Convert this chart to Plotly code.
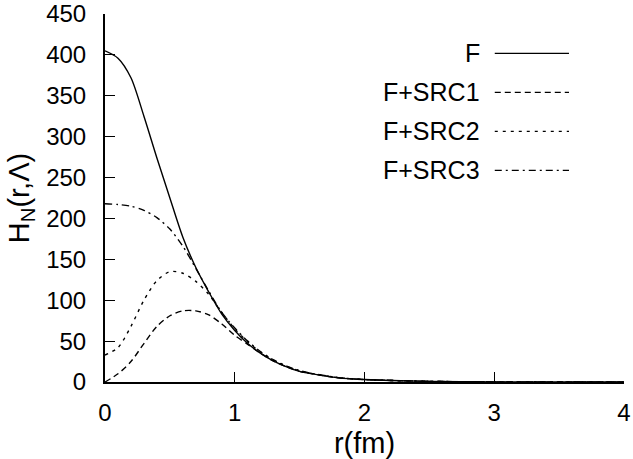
import plotly.graph_objects as go

r = [0.0, 0.1, 0.2, 0.3, 0.4, 0.5, 0.6, 0.7, 0.8, 0.9, 1.0, 1.1, 1.2, 1.3, 1.4,
     1.5, 1.6, 1.8, 2.0, 2.5, 3.0, 3.5, 4.0]

F = [405, 396, 372, 325, 274, 225, 177, 140, 110, 83, 63, 47, 35, 25.5, 18.5,
     13, 10, 5, 3, 0.8, 0.2, 0.05, 0]
F_SRC1 = [0, 10, 25, 47, 68, 81, 87, 87, 82, 71, 57, 46, 35, 25.5, 18.5,
          13, 10, 5, 3, 0.8, 0.2, 0.05, 0]
F_SRC2 = [33, 42, 68, 100, 124, 135, 133, 123, 107, 85, 65, 49, 36.5, 26.5, 19,
          13.5, 10.3, 5.3, 3, 0.8, 0.2, 0.05, 0]
F_SRC3 = [218, 217, 215, 210, 201, 187, 166, 139, 111, 85, 66, 50, 37, 27, 19.5,
          14, 10.4, 5.4, 3, 0.8, 0.2, 0.05, 0]

names = ["F", "F+SRC1", "F+SRC2", "F+SRC3"]
series = [F, F_SRC1, F_SRC2, F_SRC3]
dashes = ["solid", "6px,4px", "3px,5px", "7px,4px,2px,4px"]

x_ticks = [0, 1, 2, 3, 4]
y_ticks = [0, 50, 100, 150, 200, 250, 300, 350, 400, 450]

FONT = "Liberation Sans, Arial, sans-serif"
FS = 24

fig = go.Figure()
for name, ys, d in zip(names, series, dashes):
    fig.add_trace(go.Scatter(
        x=r, y=ys, mode="lines", name=name,
        line=dict(color="black", width=1.4, dash=d, shape="spline", smoothing=0.8),
        showlegend=False,
    ))

# gnuplot-style key: text right-aligned, line sample to the right
key_top = 0.893
key_step = 0.106
for i, (name, d) in enumerate(zip(names, dashes)):
    yk = key_top - i * key_step
    fig.add_annotation(
        x=0.727, y=yk, xref="paper", yref="paper", text=name,
        showarrow=False, xanchor="right", yanchor="middle",
        font=dict(family=FONT, size=25, color="black"),
    )
    fig.add_shape(
        type="line", xref="paper", yref="paper",
        x0=0.751, x1=0.894, y0=yk, y1=yk,
        line=dict(color="black", width=1.4, dash=d),
    )

fig.update_layout(
    width=633, height=459,
    margin=dict(l=105, r=9, t=14, b=77),
    paper_bgcolor="white", plot_bgcolor="white",
    font=dict(family=FONT, size=FS, color="black"),
    xaxis=dict(
        range=[0, 4], tickvals=x_ticks, ticks="inside", ticklen=10, tickwidth=1.4,
        tickcolor="black", showline=True, linecolor="black", linewidth=2,
        showgrid=False, zeroline=False, title=dict(text="r(fm)", standoff=8),
        tickfont=dict(size=FS), ticklabelstandoff=8, automargin=False,
    ),
    yaxis=dict(
        range=[0, 450], tickvals=y_ticks, ticks="inside", ticklen=10, tickwidth=1.4,
        tickcolor="black", showline=True, linecolor="black", linewidth=2,
        showgrid=False, zeroline=False,
        title=dict(text="H<sub>N</sub>(r,Λ)", standoff=8),
        tickfont=dict(size=FS), ticklabelstandoff=12, automargin=False,
    ),
)

fig.write_html("out.html", config={"displayModeBar": False},
               post_script="document.body.style.margin='0';")
